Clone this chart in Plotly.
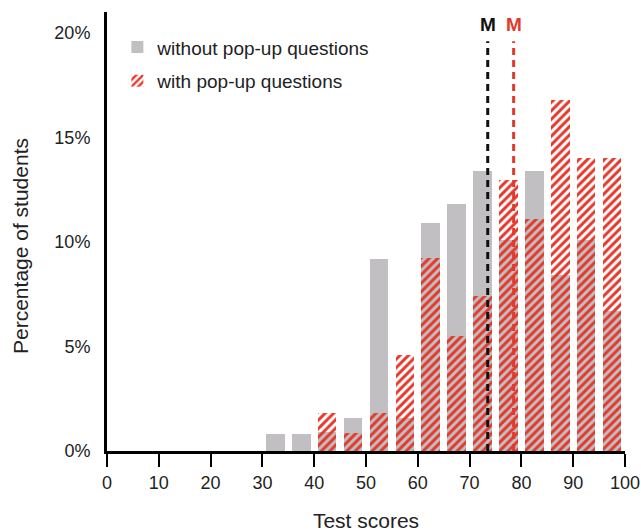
import plotly.graph_objects as go

# Bin centres (test scores) and percentages of students
bin_centers = [32.5, 37.5, 42.5, 47.5, 52.5, 57.5, 62.5, 67.5, 72.5, 77.5, 82.5, 87.5, 92.5, 97.5]
without_popup = [0.81, 0.81, 0.9, 1.6, 9.2, 1.6, 10.9, 11.8, 13.4, 10.1, 13.4, 8.4, 10.1, 6.7]
with_popup = [0.0, 0.0, 1.8, 0.88, 1.8, 4.6, 9.25, 5.5, 7.4, 12.95, 11.1, 16.8, 14.0, 14.0]

mean_without = 73.5
mean_with = 78.5

x_ticks = [0, 10, 20, 30, 40, 50, 60, 70, 80, 90, 100]
y_ticks = [0, 5, 10, 15, 20]
y_tick_labels = ["0%", "5%", "10%", "15%", "20%"]

GRAY = "#c1bfc1"
RED = "#e3392c"
TEXT = "#222222"
FONT = "Liberation Sans, Arial, Helvetica, sans-serif"

fig = go.Figure()
fig.add_trace(go.Bar(
    x=bin_centers, y=without_popup, width=3.6,
    name="without pop-up questions",
    marker=dict(color=GRAY, line=dict(width=0)),
    legendgroup="a",
))
fig.add_trace(go.Bar(
    x=bin_centers, y=with_popup, width=3.6,
    name="with pop-up questions",
    marker=dict(
        color=RED, line=dict(width=0),
        pattern=dict(shape="/", fgcolor=RED, bgcolor="rgba(0,0,0,0)",
                     size=6, solidity=0.5, fillmode="replace"),
    ),
    legendgroup="b",
))

for m, col in [(mean_without, "#111111"), (mean_with, RED)]:
    fig.add_shape(type="line", x0=m, x1=m, y0=0, y1=19.6, xref="x", yref="y",
                  line=dict(color=col, width=3, dash="7px,5px"))
    fig.add_annotation(x=m, y=20.4, xref="x", yref="y", text="<b>M</b>",
                       showarrow=False, font=dict(size=19, color=col, family=FONT))

# y-axis title placed as rotated text
fig.add_annotation(x=-86 / 518, y=0.467, xref="paper", yref="paper",
                   text="Percentage of students", textangle=-90, showarrow=False,
                   xanchor="center", yanchor="middle",
                   font=dict(size=21, color=TEXT, family=FONT))

fig.update_layout(
    width=641, height=532,
    margin=dict(l=107, r=16, t=12, b=81),
    paper_bgcolor="white", plot_bgcolor="white",
    barmode="overlay", bargap=0,
    showlegend=True,
    font=dict(family=FONT, color=TEXT, size=18),
    legend=dict(x=0.02, y=0.963, xanchor="left", yanchor="top",
                font=dict(size=19, color=TEXT, family=FONT),
                bgcolor="rgba(0,0,0,0)", tracegroupgap=6),
    xaxis=dict(range=[0, 100], tickvals=x_ticks, showgrid=False, zeroline=False,
               automargin=False,
               showline=True, linecolor="black", linewidth=3,
               ticks="outside", ticklen=13, tickwidth=2, tickcolor="black",
               tickfont=dict(size=18, color=TEXT),
               title=dict(text="Test scores", font=dict(size=21, color=TEXT), standoff=24)),
    yaxis=dict(range=[0, 21], tickvals=y_ticks, ticktext=y_tick_labels,
               showgrid=False, zeroline=False, automargin=False,
               showline=True, linecolor="black", linewidth=3,
               ticks="outside", ticklen=10, tickcolor="rgba(0,0,0,0)",
               tickfont=dict(size=18, color=TEXT)),
)

fig.write_html("out.html")
